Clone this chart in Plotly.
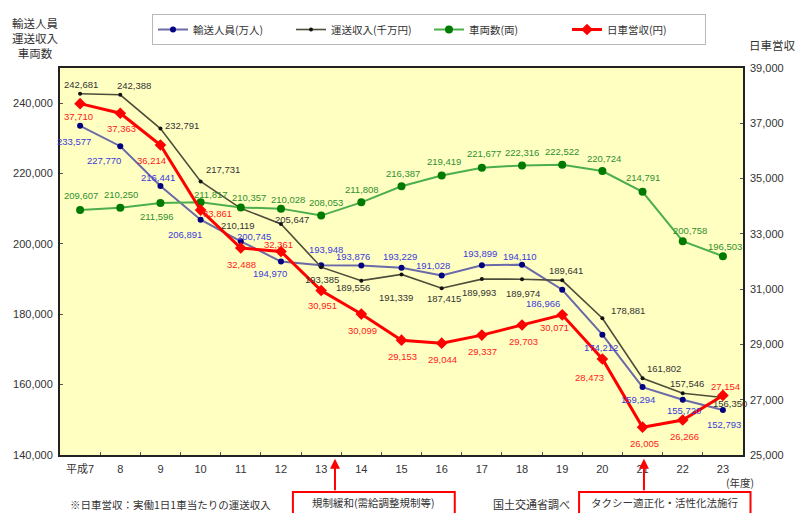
import plotly.graph_objects as go

# 年度（平成）
years = ["平成7", "8", "9", "10", "11", "12", "13", "14", "15", "16",
         "17", "18", "19", "20", "21", "22", "23"]

# 輸送人員（万人）
passengers = [233577, 227770, 216441, 206891, 200745, 194970, 193948, 193876, 193229,
              191028, 193899, 194110, 186966, 174212, 159294, 155720, 152793]
# 運送収入（千万円）
revenue = [242681, 242388, 232791, 217731, 210119, 205647, 193385, 189556, 191339,
           187415, 189993, 189974, 189641, 178881, 161802, 157546, 156350]
# 車両数（両）
vehicles = [209607, 210250, 211596, 211817, 210357, 210028, 208053, 211808, 216387,
            219419, 221677, 222316, 222522, 220724, 214791, 200758, 196503]
# 日車営収（円）
daily_rev = [37710, 37363, 36214, 33861, 32488, 32361, 30951, 30099, 29153,
             29044, 29337, 29703, 30071, 28473, 26005, 26266, 27154]

left_ticks = [140000, 160000, 180000, 200000, 220000, 240000]
right_ticks = [25000, 27000, 29000, 31000, 33000, 35000, 37000, 39000]

# value-label offsets in pixels (dx right, dy down) for each point
off_pass = [(-6, 16), (-16, 14), (-2, -9), (-16, 15), (13, -5), (-11, 12), (5, -16), (-8, -9),
            (-2, -11), (-9, -10), (-2, -12), (-2, -8), (-19, 14), (-1, 13), (-5, 12), (1, 11), (1, 15)]
off_rev = [(1, -9), (14, -9), (22, -3), (22, -12), (-3, 17), (11, -5), (1, 12), (-8, 7),
           (-6, 23), (2, 10), (-3, 13), (1, 14), (4, -10), (26, -8), (21, -10), (4, -10), (7, 6)]
off_veh = [(1, -15), (1, -13), (-3, 13), (10, -8), (8, -10), (7, -9), (5, -13), (1, -13),
           (1, -13), (2, -14), (2, -14), (0, -13), (0, -13), (2, -13), (0, -14), (7, -11), (2, -10)]
off_day = [(-2, 13), (1, 15), (-9, 15), (17, 3), (1, 16), (-2, -7), (1, 15), (1, 16), (1, 16),
           (1, 16), (1, 16), (1, 16), (-8, 13), (-13, 18), (2, 16), (2, 16), (3, -9)]

JP = "Noto Sans CJK JP"
NUM = "Liberation Sans, Arial, Noto Sans CJK JP"

fig = go.Figure()

series = [
    ("輸送人員(万人)", passengers, "y", "#6a6aa8", 2, "#000080", "circle", 6, "#3b3bdc", off_pass),
    ("運送収入(千万円)", revenue, "y", "#4d4d3a", 1.6, "#111111", "circle", 4, "#333333", off_rev),
    ("車両数(両)", vehicles, "y", "#4cae4c", 2, "#007a00", "circle", 8, "#2f8f2f", off_veh),
    ("日車営収(円)", daily_rev, "y2", "#ff0000", 3, "#ff0000", "diamond", 9, "#ff1a1a", off_day),
]

annotations = []
for name, vals, yax, lcol, lw, mcol, msym, msz, tcol, offs in series:
    fig.add_trace(go.Scatter(
        x=years, y=vals, name=name, yaxis=yax, mode="lines+markers",
        line=dict(color=lcol, width=lw),
        marker=dict(color=mcol, symbol=msym, size=msz, line=dict(width=0)),
    ))
    # value labels: category positions are addressed by index
    for i, (v, (dx, dy)) in enumerate(zip(vals, offs)):
        annotations.append(dict(
            x=i, y=v, xref="x", yref=yax, text=f"{v:,}", showarrow=False,
            xanchor="center", yanchor="middle", xshift=dx, yshift=-dy,
            font=dict(family=NUM, size=9.5, color=tcol),
        ))

# axis titles
annotations.append(dict(
    x=-0.036, y=1.0775, xref="paper", yref="paper", text="輸送人員<br>運送収入<br>車両数",
    showarrow=False, xanchor="center", yanchor="middle",
    font=dict(family=JP, size=11.5, color="#333333")))
annotations.append(dict(
    x=1.0425, y=1.059, xref="paper", yref="paper", text="日車営収",
    showarrow=False, xanchor="center", yanchor="middle",
    font=dict(family=JP, size=11.5, color="#333333")))
annotations.append(dict(
    x=0.995, y=-0.07, xref="paper", yref="paper", text="(年度)",
    showarrow=False, xanchor="center", yanchor="middle",
    font=dict(family=JP, size=10.5, color="#333333")))

# notes below the chart
annotations.append(dict(
    x=0.011, y=-0.127, xref="paper", yref="paper",
    text="※日車営収：実働1日1車当たりの運送収入",
    showarrow=False, xanchor="left", yanchor="middle",
    font=dict(family=JP, size=10.5, color="#333333")))
annotations.append(dict(
    x=0.691, y=-0.127, xref="paper", yref="paper", text="国土交通省調べ",
    showarrow=False, xanchor="center", yanchor="middle",
    font=dict(family=JP, size=11, color="#333333")))

# event boxes with arrows pointing at the year axis
events = [
    ("規制緩和(需給調整規制等)", 0.341, 0.578, 0.4026),
    ("タクシー適正化・活性化法施行", 0.760, 1.011, 0.855),
]
shapes = []
for label, x0, x1, xa in events:
    shapes.append(dict(type="rect", xref="paper", yref="paper",
                       x0=x0, x1=x1, y0=-0.0956, y1=-0.175,
                       line=dict(color="#ff0000", width=2), fillcolor="white"))
    annotations.append(dict(
        x=(x0 + x1) / 2, y=-0.124, xref="paper", yref="paper", text=label,
        showarrow=False, xanchor="center", yanchor="middle",
        font=dict(family=JP, size=10.5, color="#333333")))
    annotations.append(dict(
        x=xa, y=-0.01, xref="paper", yref="paper", text="",
        showarrow=True, ax=0, ay=33, axref="pixel", ayref="pixel",
        arrowhead=2, arrowsize=1, arrowwidth=2, arrowcolor="#ff0000", standoff=0))

fig.update_layout(
    width=799, height=513,
    margin=dict(l=60, r=56, t=68, b=58),
    paper_bgcolor="white", plot_bgcolor="#FFFFC2",
    showlegend=True,
    legend=dict(
        orientation="h", x=0.1347, y=1.1395, xanchor="left", yanchor="top",
        bgcolor="white", bordercolor="#b8b8b8", borderwidth=1,
        font=dict(family=JP, size=10.5, color="#333333"),
        itemwidth=30, tracegroupgap=0, entrywidth=93, entrywidthmode="pixels",
    ),
    xaxis=dict(
        type="category", categoryorder="array", categoryarray=years,
        range=[-0.5, 16.5], showgrid=False,
        showline=True, linecolor="#222222", linewidth=2, mirror=True,
        ticks="inside", ticklen=3, tickcolor="#555555", tickson="boundaries",
        ticklabelstandoff=3,
        tickfont=dict(family=NUM, size=11, color="#333333"),
    ),
    yaxis=dict(
        range=[140000, 250000], tickvals=left_ticks, tickformat=",d", showgrid=False,
        zeroline=False, showline=True, linecolor="#222222", linewidth=2, mirror=True,
        ticks="inside", ticklen=3, tickcolor="#555555", ticklabelstandoff=3,
        tickfont=dict(family=NUM, size=11, color="#333333"),
    ),
    yaxis2=dict(
        overlaying="y", side="right", range=[25000, 39000], tickvals=right_ticks,
        tickformat=",d", showgrid=False, zeroline=False, showline=False,
        ticks="inside", ticklen=3, tickcolor="#555555", ticklabelstandoff=6,
        tickfont=dict(family=NUM, size=11, color="#333333"),
    ),
    annotations=annotations,
    shapes=shapes,
)

fig.write_html("out.html")
